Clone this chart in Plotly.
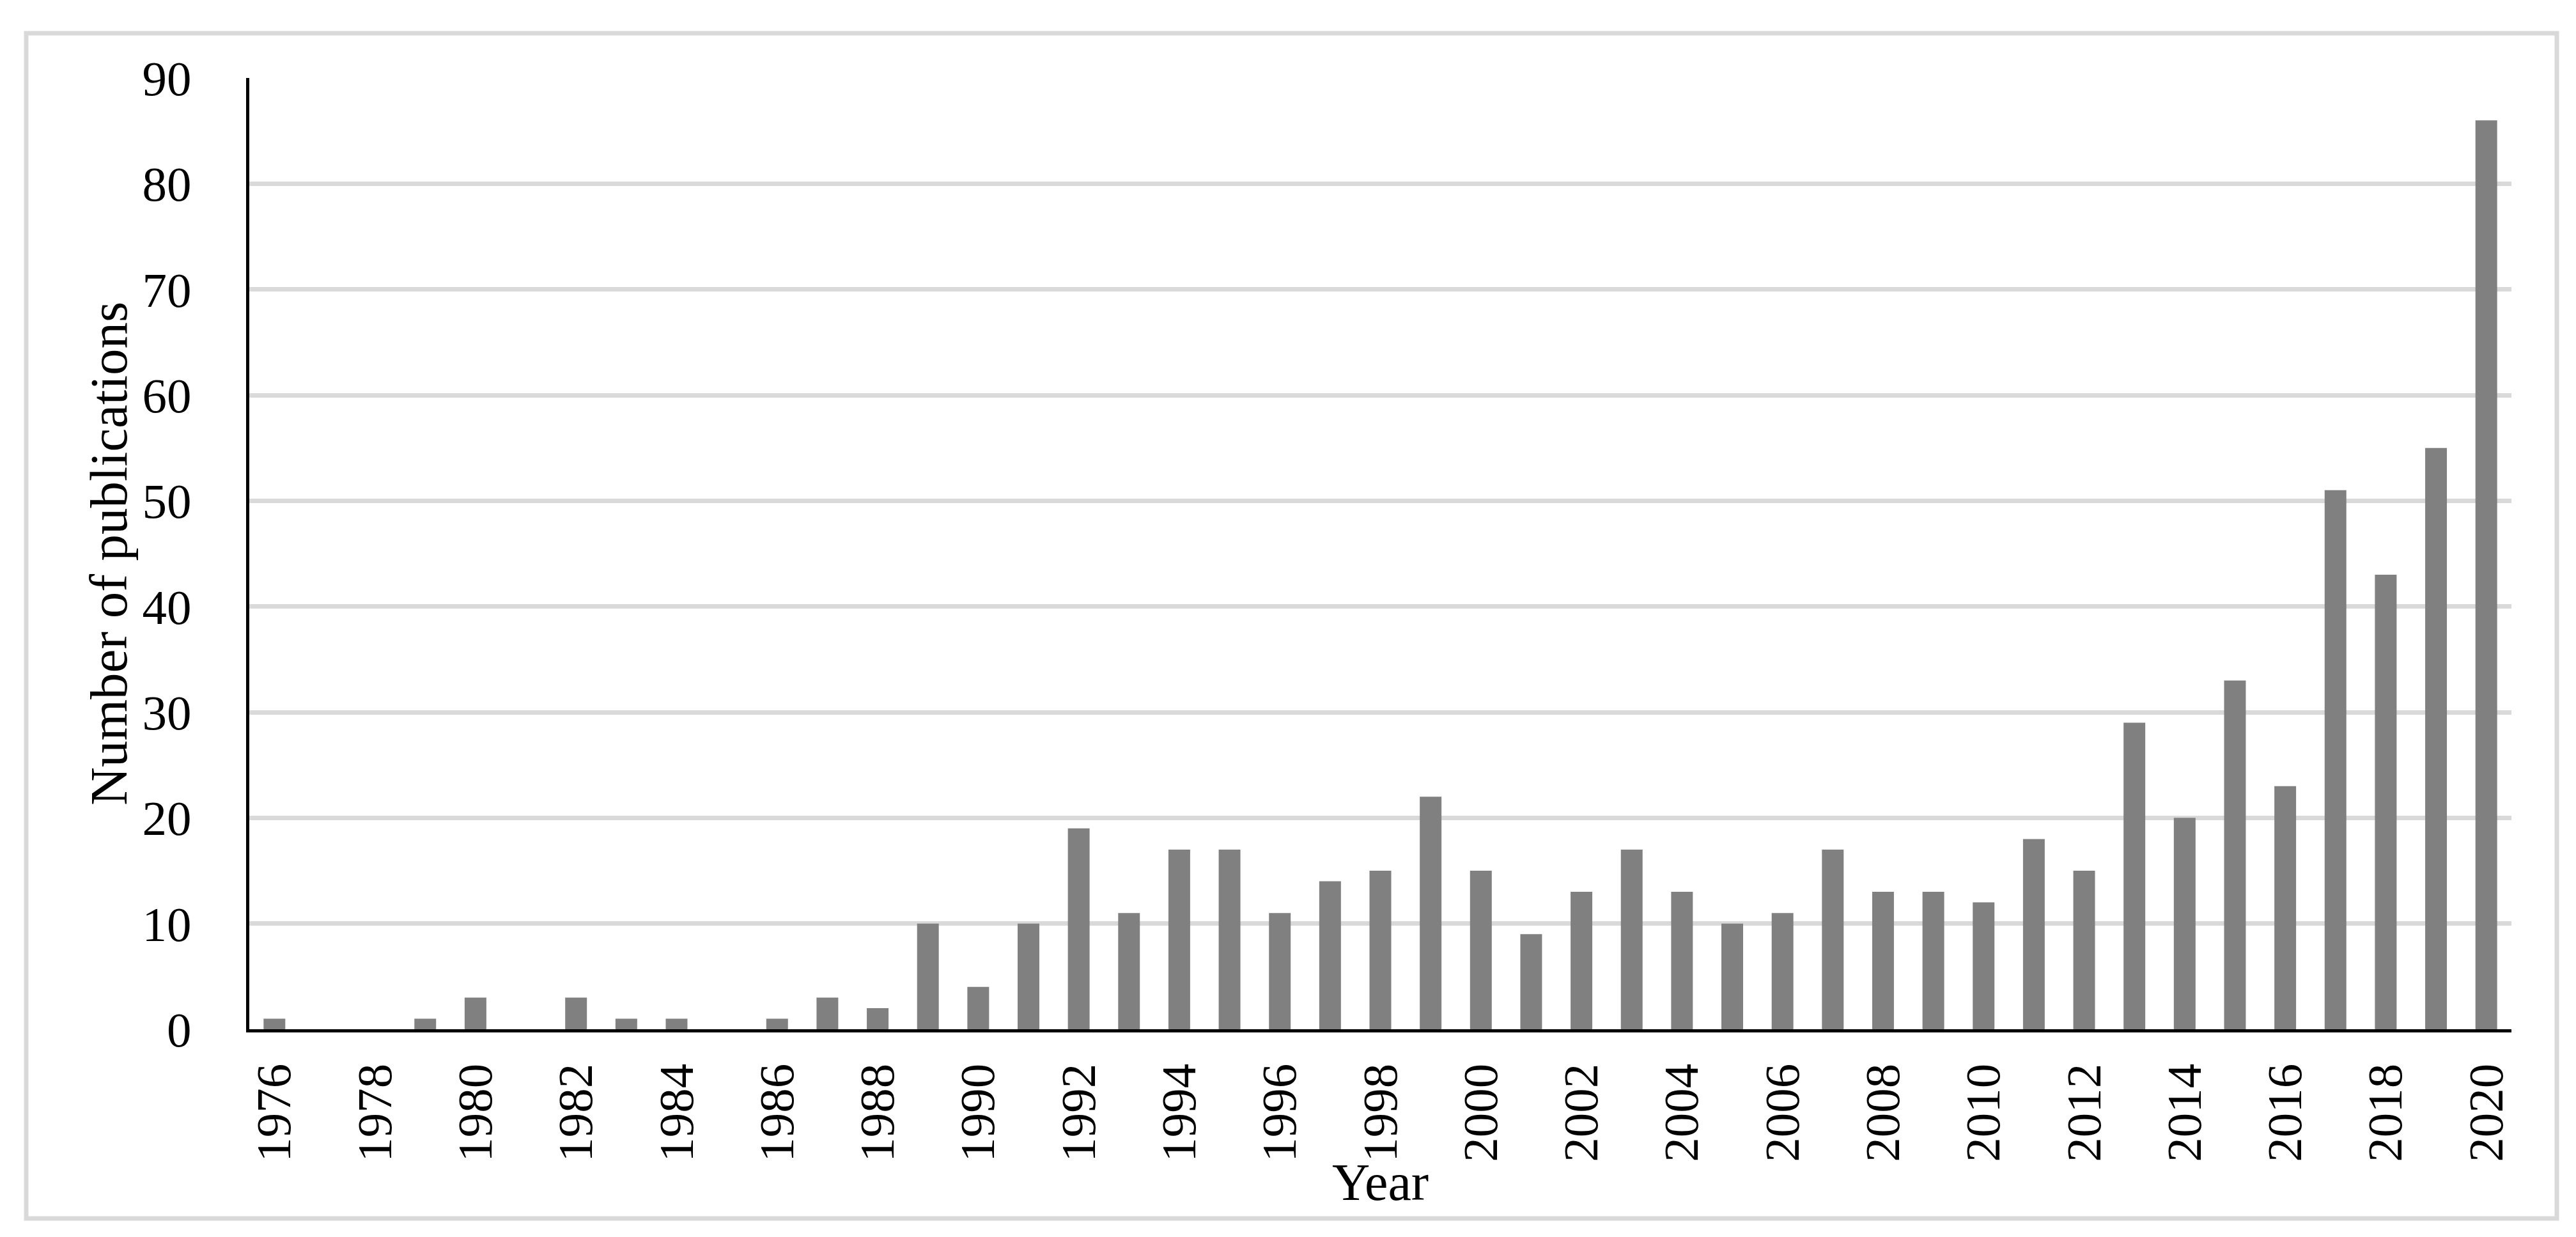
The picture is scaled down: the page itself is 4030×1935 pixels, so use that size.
import plotly.graph_objects as go

years = [str(y) for y in range(1976, 2021)]
publications = [1, 0, 0, 1, 3, 0, 3, 1, 1, 0, 1, 3, 2, 10, 4, 10, 19, 11, 17, 17,
                11, 14, 15, 22, 15, 9, 13, 17, 13, 10, 11, 17, 13, 13, 12, 18, 15, 29,
                20, 33, 23, 51, 43, 55, 86]
tick_years = years[::2]
y_ticks = list(range(0, 91, 10))

W, H = 4030, 1935
L, R, T, B = 382, 4030 - 3921, 114, 1935 - 1602
FONT = "Liberation Serif"

fig = go.Figure()
fig.add_trace(go.Bar(x=years, y=publications, marker=dict(color="#808080", line=dict(width=0)),
                     hoverinfo="x+y"))

fig.update_layout(
    width=W, height=H,
    margin=dict(l=L, r=R, t=T, b=B, pad=0),
    paper_bgcolor="white", plot_bgcolor="white",
    bargap=0.568,
    showlegend=False,
    font=dict(family=FONT, size=76, color="black"),
    xaxis=dict(
        type="category",
        tickmode="array", tickvals=tick_years, ticktext=tick_years,
        tickangle=-90,
        showgrid=False,
        showline=True, linecolor="black", linewidth=5,
        ticks="",
        ticklabelstandoff=18,
        tickfont=dict(family=FONT, size=77, color="black"),
        range=[-0.5, len(years) - 0.5],
    ),
    yaxis=dict(
        range=[0, 90],
        tickmode="array", tickvals=y_ticks,
        showgrid=True, gridcolor="#d9d9d9", gridwidth=7,
        zeroline=False,
        showline=True, linecolor="black", linewidth=5,
        ticks="",
        ticklabelstandoff=70,
        tickfont=dict(family=FONT, size=77, color="black"),
    ),
    annotations=[
        dict(text="Year", xref="paper", yref="paper", x=0.5, y=0,
             xanchor="center", yanchor="top", yshift=-192, showarrow=False,
             font=dict(family=FONT, size=82, color="black")),
        dict(text="Number of publications", xref="paper", yref="paper", x=0, y=0.5,
             xanchor="center", yanchor="middle", xshift=-220, textangle=-90, showarrow=False,
             font=dict(family=FONT, size=83, color="black")),
    ],
    shapes=[
        dict(type="rect", xref="paper", yref="paper",
             xsizemode="pixel", ysizemode="pixel", xanchor=0, yanchor=0,
             x0=33 - L, x1=3992 - L, y0=-(1898 - 1602), y1=1602 - 44,
             line=dict(color="#d9d9d9", width=7), fillcolor="rgba(0,0,0,0)", layer="below"),
    ],
)

fig.write_html("out.html")
